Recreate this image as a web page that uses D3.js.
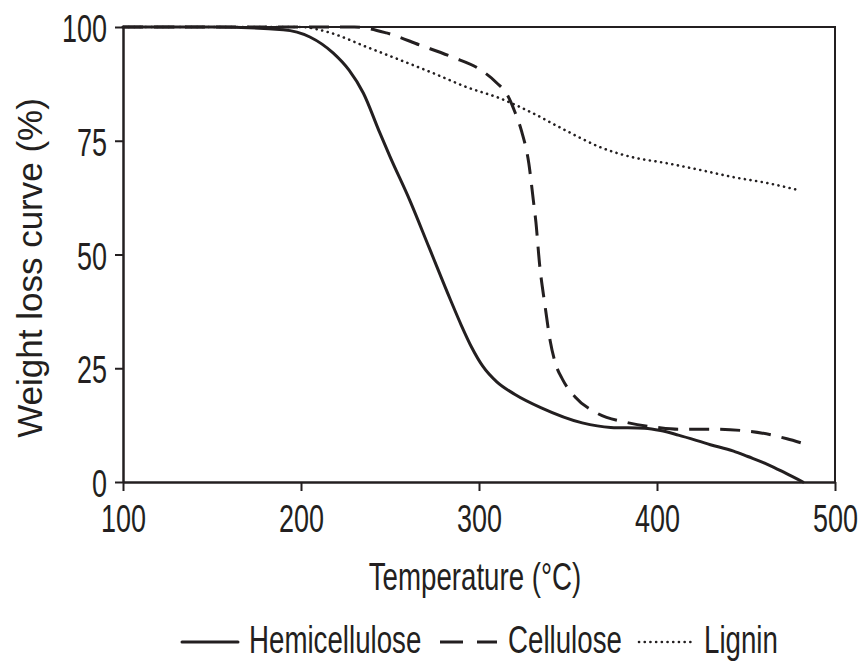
<!DOCTYPE html>
<html>
<head>
<meta charset="utf-8">
<script src="https://cdn.jsdelivr.net/npm/d3@7"></script>
<style>
  body { margin: 0; background: #fff; }
  svg text { fill: #231f20; font-family: "Liberation Sans", Arial, sans-serif; }
</style>
</head>
<body>
<svg id="chart" width="862" height="661"></svg>
<script>
// temperature (°C) and weight (%)
const hemiT = [100, 150, 190, 205, 218, 227, 235, 244, 250, 261, 272, 284, 290, 296, 302, 310, 320, 335, 358, 374, 393, 402, 412, 430, 443, 451, 462, 472, 482];
const hemiW = [100, 100, 99.4, 97.8, 94.3, 90.5, 85.5, 77, 71.5, 62, 51.5, 40, 34.5, 29.5, 25.5, 22, 19.3, 16.3, 13, 12, 11.8, 11.3, 10.3, 8.2, 6.8, 5.6, 3.9, 2, 0];

const celluT = [100, 200, 230, 248, 267, 285, 300, 310, 316, 320, 324, 328, 330.5, 332, 334, 337, 340, 343, 347, 354, 366, 384, 400, 412, 430, 451, 473, 481];
const celluW = [100, 100, 100, 98.7, 96, 93.4, 90.8, 87.7, 85, 81.5, 77, 70, 62, 57, 48, 39, 31, 26, 22.5, 18.7, 15.2, 13, 12, 11.6, 11.6, 11.2, 9.5, 8.6];

const ligninT = [100, 200, 215, 237, 256, 274, 293, 312, 330, 349, 368, 386, 405, 424, 443, 462, 479];
const ligninW = [100, 100, 98.9, 95.6, 92.7, 89.9, 86.8, 84.3, 81.1, 77.2, 73.6, 71.4, 70.1, 68.6, 67, 65.7, 64.2];

const xTicks = [100, 200, 300, 400, 500];
const yTicks = [0, 25, 50, 75, 100];
const seriesNames = ["Hemicellulose", "Cellulose", "Lignin"];

const svg = d3.select("#chart");
const mLeft = 123, mRight = 835, mTop = 27, mBottom = 482;
const squeeze = 0.71; // no Arial Narrow here, so condense Liberation Sans

const x = d3.scaleLinear().domain([100, 500]).range([mLeft, mRight]);
const y = d3.scaleLinear().domain([0, 100]).range([mBottom, mTop]);

const styles = {
  Hemicellulose: { dash: null, width: 3, cap: "round" },
  Cellulose: { dash: "20,11", width: 3, cap: "butt" },
  Lignin: { dash: "0.1,5.6", width: 2.6, cap: "round" }
};

const series = [
  { name: seriesNames[0], pts: hemiT.map((t, i) => [t, hemiW[i]]) },
  { name: seriesNames[1], pts: celluT.map((t, i) => [t, celluW[i]]) },
  { name: seriesNames[2], pts: ligninT.map((t, i) => [t, ligninW[i]]) }
];

const line = d3.line()
    .x(d => x(d[0]))
    .y(d => y(d[1]))
    .curve(d3.curveMonotoneX);

// frame: top and right edges
svg.append("path")
    .attr("d", `M${mLeft},${mTop}H${mRight}V${mBottom}`)
    .attr("fill", "none")
    .attr("stroke", "#231f20")
    .attr("stroke-width", 2);

svg.append("g")
    .selectAll("path")
    .data(series)
    .enter().append("path")
    .attr("d", d => line(d.pts))
    .attr("fill", "none")
    .attr("stroke", "#231f20")
    .attr("stroke-width", d => styles[d.name].width)
    .attr("stroke-linecap", d => styles[d.name].cap)
    .attr("stroke-dasharray", d => styles[d.name].dash);

const xAxis = d3.axisBottom(x).tickValues(xTicks).tickSize(9).tickSizeOuter(0);
const yAxis = d3.axisLeft(y).tickValues(yTicks).tickSize(8).tickSizeOuter(0);

const styleAxis = g => {
  g.select(".domain").attr("stroke", "#231f20").attr("stroke-width", 2.5);
  g.selectAll(".tick line").attr("stroke", "#231f20").attr("stroke-width", 2);
  g.selectAll(".tick text")
      .attr("font-size", 38)
      .attr("fill", "#231f20")
      .attr("x", 0)
      .attr("y", 0);
};

svg.append("g")
    .attr("transform", `translate(0,${mBottom})`)
    .call(xAxis)
    .call(styleAxis)
    .selectAll(".tick text")
    .attr("dy", 0)
    .attr("transform", `translate(0,50) scale(${squeeze},1)`);

svg.append("g")
    .attr("transform", `translate(${mLeft},0)`)
    .call(yAxis)
    .call(styleAxis)
    .selectAll(".tick text")
    .attr("dy", "0.36em")
    .attr("transform", `translate(-16,1) scale(${squeeze},1)`);

svg.append("text")
    .attr("transform", `translate(475,590) scale(${squeeze},1)`)
    .attr("text-anchor", "middle")
    .attr("font-size", 39)
    .text("Temperature (°C)");

svg.append("text")
    .attr("transform", `translate(42,268) rotate(-90)`)
    .attr("text-anchor", "middle")
    .attr("font-size", 35)
    .text("Weight loss curve (%)");

// legend along the bottom
const legendLine = [[182, 238], [440, 497], [639, 695]];
const legendText = [249, 508, 704];
const legend = svg.append("g")
    .selectAll("g")
    .data(series)
    .enter().append("g");

legend.append("path")
    .attr("d", (d, i) => `M${legendLine[i][0]},642H${legendLine[i][1]}`)
    .attr("stroke", "#231f20")
    .attr("stroke-width", d => styles[d.name].width)
    .attr("stroke-linecap", d => styles[d.name].cap)
    .attr("stroke-dasharray", d => d.name === "Cellulose" ? "23,14" : styles[d.name].dash);

legend.append("text")
    .attr("transform", (d, i) => `translate(${legendText[i]},653) scale(${squeeze},1)`)
    .attr("font-size", 39)
    .text(d => d.name);
</script>
</body>
</html>
